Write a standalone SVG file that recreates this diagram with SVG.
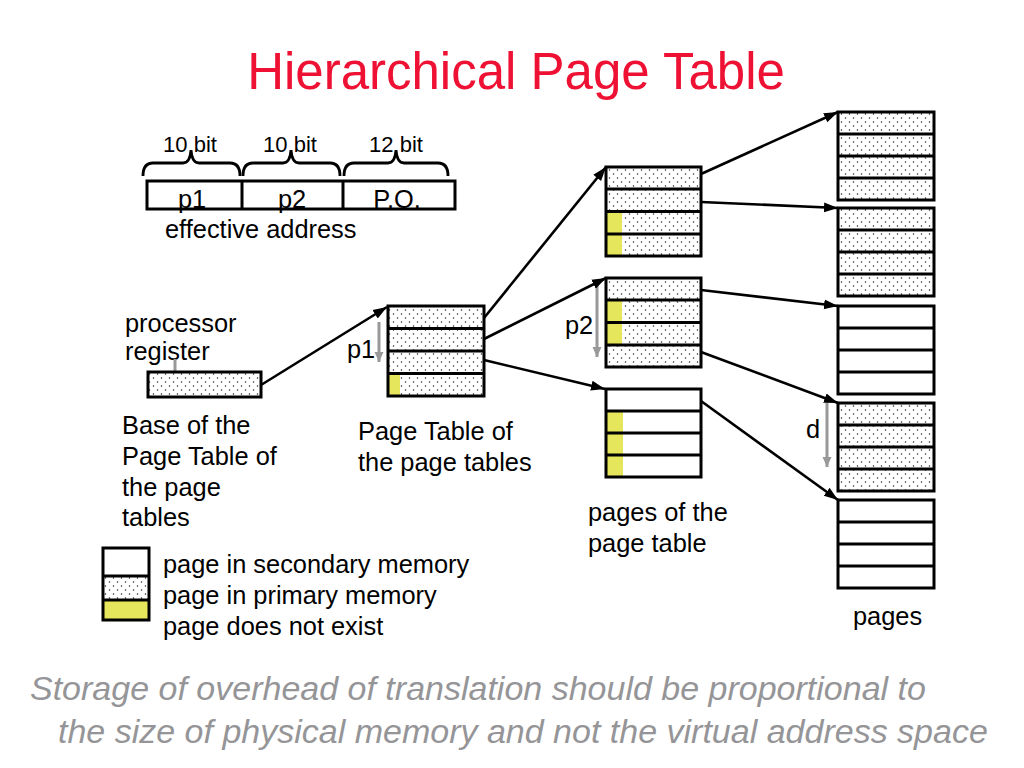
<svg xmlns="http://www.w3.org/2000/svg" width="1024" height="768" viewBox="0 0 1024 768">
<defs>
<pattern id="dots" width="8" height="8" patternUnits="userSpaceOnUse">
<rect width="8" height="8" fill="#fff"/>
<circle cx="1.5" cy="2" r="0.75" fill="#222"/>
<circle cx="5.5" cy="6" r="0.75" fill="#222"/>
</pattern>
<marker id="ah" markerUnits="userSpaceOnUse" markerWidth="16" markerHeight="12" refX="14" refY="6" orient="auto">
<path d="M0,1 L14,6 L0,11 Z" fill="#000"/>
</marker>
<marker id="gh" markerUnits="userSpaceOnUse" markerWidth="12" markerHeight="12" refX="10" refY="6" orient="auto">
<path d="M0,1.5 L10,6 L0,10.5 Z" fill="#999"/>
</marker>
</defs>
<style>
text{font-family:"Liberation Sans",Arial,sans-serif;fill:#000}
.t24{font-size:25.4px}
.t22{font-size:22px}
.title{font-size:51px;fill:#ee1133}
.foot{font-size:34px;font-style:italic;fill:#959598}
.dot{fill:url(#dots)}
.wht{fill:#fff}
.yel{fill:#e6e65c}
.frame{fill:none;stroke:#000;stroke-width:3}
.div{stroke:#000;stroke-width:3}
.conn{stroke:#000;stroke-width:2.6;fill:none;marker-end:url(#ah)}
.gray{stroke:#999;stroke-width:3;fill:none}
.brace{stroke:#000;stroke-width:2.8;fill:none}
</style>

<text class="title" x="516" y="89" text-anchor="middle">Hierarchical Page Table</text>

<g id="address">
<path class="brace" d="M143,176 Q143,163 153,163 L183,163 Q190,163 191,150 Q192,163 199,163 L230,163 Q240,163 240,176"/>
<path class="brace" d="M243,176 Q243,163 253,163 L283,163 Q290,163 291,150 Q292,163 299,163 L330,163 Q340,163 340,176"/>
<path class="brace" d="M344,176 Q344,163 354,163 L388,163 Q395,163 396,150 Q397,163 404,163 L438,163 Q448,163 448,176"/>
<text class="t22" x="190" y="152" text-anchor="middle">10 bit</text>
<text class="t22" x="290" y="152" text-anchor="middle">10 bit</text>
<text class="t22" x="396" y="152" text-anchor="middle">12 bit</text>
<rect x="147" y="181" width="308" height="28" fill="#fff" stroke="#000" stroke-width="3"/>
<line class="div" x1="242" y1="181" x2="242" y2="209"/>
<line class="div" x1="343" y1="181" x2="343" y2="209"/>
<text class="t24" x="192" y="208" text-anchor="middle">p1</text>
<text class="t24" x="292" y="208" text-anchor="middle">p2</text>
<text class="t24" x="397" y="208" text-anchor="middle">P.O.</text>
<text class="t24" x="165" y="238">effective address</text>
</g>

<g id="register">
<text class="t24" x="125" y="332">processor</text>
<text class="t24" x="125" y="360">register</text>
<line class="gray" x1="175" y1="359" x2="175" y2="372"/>
<rect class="dot" x="148" y="372" width="113" height="25"/>
<rect class="frame" x="148" y="372" width="113" height="25"/>
<text class="t24" x="122" y="434">Base of the</text>
<text class="t24" x="122" y="465">Page Table of</text>
<text class="t24" x="122" y="496">the page</text>
<text class="t24" x="122" y="526">tables</text>
</g>

<g id="page-table-of-page-tables">
<rect class="dot" x="388" y="306" width="96" height="90"/>
<rect class="yel" x="389" y="373" width="11" height="22"/>
<rect class="frame" x="388" y="306" width="96" height="90"/>
<line class="div" x1="388" y1="328.5" x2="484" y2="328.5"/>
<line class="div" x1="388" y1="351" x2="484" y2="351"/>
<line class="div" x1="388" y1="373.5" x2="484" y2="373.5"/>
<text class="t24" x="347" y="358">p1</text>
<line class="gray" x1="379" y1="322" x2="379" y2="362" marker-end="url(#gh)"/>
<text class="t24" x="358" y="440">Page Table of</text>
<text class="t24" x="358" y="471">the page tables</text>
</g>

<g id="page-table-a">
<rect class="dot" x="606" y="167" width="95" height="89"/>
<rect class="yel" x="607" y="211" width="15" height="44"/>
<rect class="frame" x="606" y="167" width="95" height="89"/>
<line class="div" x1="606" y1="189" x2="701" y2="189"/>
<line class="div" x1="606" y1="211.5" x2="701" y2="211.5"/>
<line class="div" x1="606" y1="234" x2="701" y2="234"/>
</g>

<g id="page-table-b">
<rect class="dot" x="606" y="278" width="95" height="89"/>
<rect class="yel" x="607" y="300" width="15" height="45"/>
<rect class="frame" x="606" y="278" width="95" height="89"/>
<line class="div" x1="606" y1="300" x2="701" y2="300"/>
<line class="div" x1="606" y1="322.5" x2="701" y2="322.5"/>
<line class="div" x1="606" y1="345" x2="701" y2="345"/>
<text class="t24" x="565" y="334">p2</text>
<line class="gray" x1="597" y1="284" x2="597" y2="357" marker-end="url(#gh)"/>
</g>

<g id="page-table-c">
<rect class="wht" x="606" y="389" width="95" height="88"/>
<rect class="yel" x="607" y="411" width="16" height="65"/>
<rect class="frame" x="606" y="389" width="95" height="88"/>
<line class="div" x1="606" y1="411" x2="701" y2="411"/>
<line class="div" x1="606" y1="433" x2="701" y2="433"/>
<line class="div" x1="606" y1="455" x2="701" y2="455"/>
<text class="t24" x="588" y="521">pages of the</text>
<text class="t24" x="588" y="552">page table</text>
</g>

<g id="page-1">
<rect class="dot" x="838" y="112" width="96" height="88"/>
<rect class="frame" x="838" y="112" width="96" height="88"/>
<line class="div" x1="838" y1="134" x2="934" y2="134"/>
<line class="div" x1="838" y1="156" x2="934" y2="156"/>
<line class="div" x1="838" y1="178" x2="934" y2="178"/>
</g>
<g id="page-2">
<rect class="dot" x="838" y="208" width="96" height="88"/>
<rect class="frame" x="838" y="208" width="96" height="88"/>
<line class="div" x1="838" y1="230" x2="934" y2="230"/>
<line class="div" x1="838" y1="252" x2="934" y2="252"/>
<line class="div" x1="838" y1="274" x2="934" y2="274"/>
</g>
<g id="page-3">
<rect class="wht" x="838" y="306" width="96" height="88"/>
<rect class="frame" x="838" y="306" width="96" height="88"/>
<line class="div" x1="838" y1="328" x2="934" y2="328"/>
<line class="div" x1="838" y1="350" x2="934" y2="350"/>
<line class="div" x1="838" y1="372" x2="934" y2="372"/>
</g>
<g id="page-4">
<rect class="dot" x="838" y="403" width="96" height="88"/>
<rect class="frame" x="838" y="403" width="96" height="88"/>
<line class="div" x1="838" y1="425" x2="934" y2="425"/>
<line class="div" x1="838" y1="447" x2="934" y2="447"/>
<line class="div" x1="838" y1="469" x2="934" y2="469"/>
<text class="t24" x="806" y="438">d</text>
<line class="gray" x1="827" y1="403" x2="827" y2="467" marker-end="url(#gh)"/>
</g>
<g id="page-5">
<rect class="wht" x="838" y="500" width="96" height="88"/>
<rect class="frame" x="838" y="500" width="96" height="88"/>
<line class="div" x1="838" y1="522" x2="934" y2="522"/>
<line class="div" x1="838" y1="544" x2="934" y2="544"/>
<line class="div" x1="838" y1="566" x2="934" y2="566"/>
<text class="t24" x="853" y="625">pages</text>
</g>

<g id="connectors">
<line class="conn" x1="261" y1="385" x2="387" y2="307"/>
<line class="conn" x1="484" y1="318" x2="606" y2="167"/>
<line class="conn" x1="484" y1="339" x2="606" y2="278"/>
<line class="conn" x1="484" y1="360" x2="605" y2="389"/>
<line class="conn" x1="701" y1="174" x2="838" y2="112"/>
<line class="conn" x1="701" y1="202" x2="838" y2="208"/>
<line class="conn" x1="701" y1="290" x2="838" y2="306"/>
<line class="conn" x1="701" y1="352" x2="838" y2="403"/>
<line class="conn" x1="701" y1="401" x2="838" y2="500"/>
</g>

<g id="legend">
<rect class="wht" x="103" y="548" width="46" height="28"/>
<rect class="dot" x="103" y="576" width="46" height="24"/>
<rect class="yel" x="103" y="600" width="46" height="20"/>
<rect class="frame" x="103" y="548" width="46" height="72"/>
<line class="div" x1="103" y1="576" x2="149" y2="576"/>
<line class="div" x1="103" y1="600" x2="149" y2="600"/>
<text class="t24" x="163" y="573">page in secondary memory</text>
<text class="t24" x="163" y="604">page in primary memory</text>
<text class="t24" x="163" y="635">page does not exist</text>
</g>

<text class="foot" x="30" y="700">Storage of overhead of translation should be proportional to</text>
<text class="foot" x="58" y="743">the size of physical memory and not the virtual address space</text>
</svg>
